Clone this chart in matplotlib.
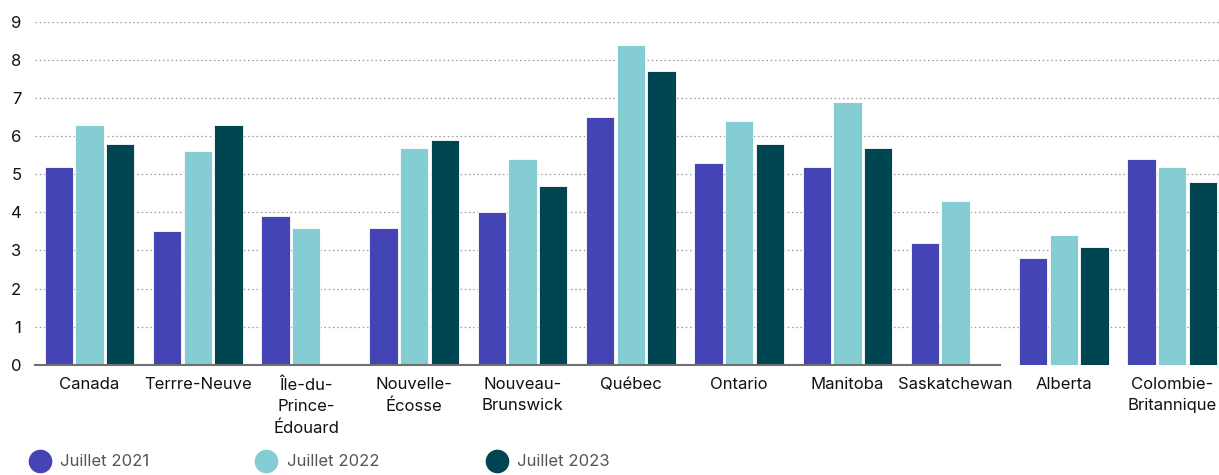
import matplotlib
matplotlib.use("Agg")
import matplotlib.pyplot as plt
from matplotlib.lines import Line2D
import numpy as np

plt.rcParams['font.family'] = ['Inter', 'DejaVu Sans']

# data
provinces = ["Canada", "Terrre-Neuve", "Île-du-\nPrince-\nÉdouard", "Nouvelle-\nÉcosse",
             "Nouveau-\nBrunswick", "Québec", "Ontario", "Manitoba", "Saskatchewan",
             "Alberta", "Colombie-\nBritannique"]
series_names = ["Juillet 2021", "Juillet 2022", "Juillet 2023"]
juillet_2021 = [5.2, 3.5, 3.9, 3.6, 4.0, 6.5, 5.3, 5.2, 3.2, 2.8, 5.4]
juillet_2022 = [6.3, 5.6, 3.6, 5.7, 5.4, 8.4, 6.4, 6.9, 4.3, 3.4, 5.2]
juillet_2023 = [5.8, 6.3, np.nan, 5.9, 4.7, 7.7, 5.8, 5.7, np.nan, 3.1, 4.8]
y_ticks = [0, 1, 2, 3, 4, 5, 6, 7, 8, 9]

colors = ["#4444b5", "#83cdd3", "#004552"]

fig = plt.figure(figsize=(12.19, 4.75), dpi=100)
ax = fig.add_axes([0.029, 0.232, 0.977, 0.722])

x = np.arange(len(provinces))
width = 0.262
step = 0.283
for k, vals in enumerate([juillet_2021, juillet_2022, juillet_2023]):
    ax.bar(x + (k - 1) * step, vals, width, color=colors[k],
           edgecolor="white", linewidth=0.6, zorder=3)

ax.set_xlim(-0.5, len(provinces) - 0.5)
ax.set_ylim(0, 9)
ax.set_yticks(y_ticks)
ax.yaxis.grid(True, linestyle=(0, (1.2, 2.2)), color="#9a9a9a", linewidth=0.9)
ax.set_axisbelow(True)

for side in ["top", "right", "left"]:
    ax.spines[side].set_visible(False)
ax.spines["bottom"].set_color("#707070")
ax.spines["bottom"].set_linewidth(1.5)
ax.spines["bottom"].set_zorder(4)
# baseline in the reference stops after Saskatchewan
ax.spines["bottom"].set_bounds(-0.5, 8 + step + width / 2)

ax.set_xticks(x)
ax.set_xticklabels(provinces, fontsize=12, linespacing=1.5, color="#111111")
ax.tick_params(axis="x", length=0, pad=9)
ax.tick_params(axis="y", length=0, pad=10, labelsize=12, labelcolor="#111111")

handles = [Line2D([], [], marker="o", linestyle="", markersize=16,
                  markerfacecolor=c, markeredgecolor=c) for c in colors]
fig.legend(handles, series_names, loc="lower left", bbox_to_anchor=(0.012, -0.02),
           ncol=3, frameon=False, fontsize=12, labelcolor="#555555",
           handletextpad=0.65, columnspacing=6.4, handlelength=1.2)

fig.savefig("out.png", dpi=100, facecolor="white")
